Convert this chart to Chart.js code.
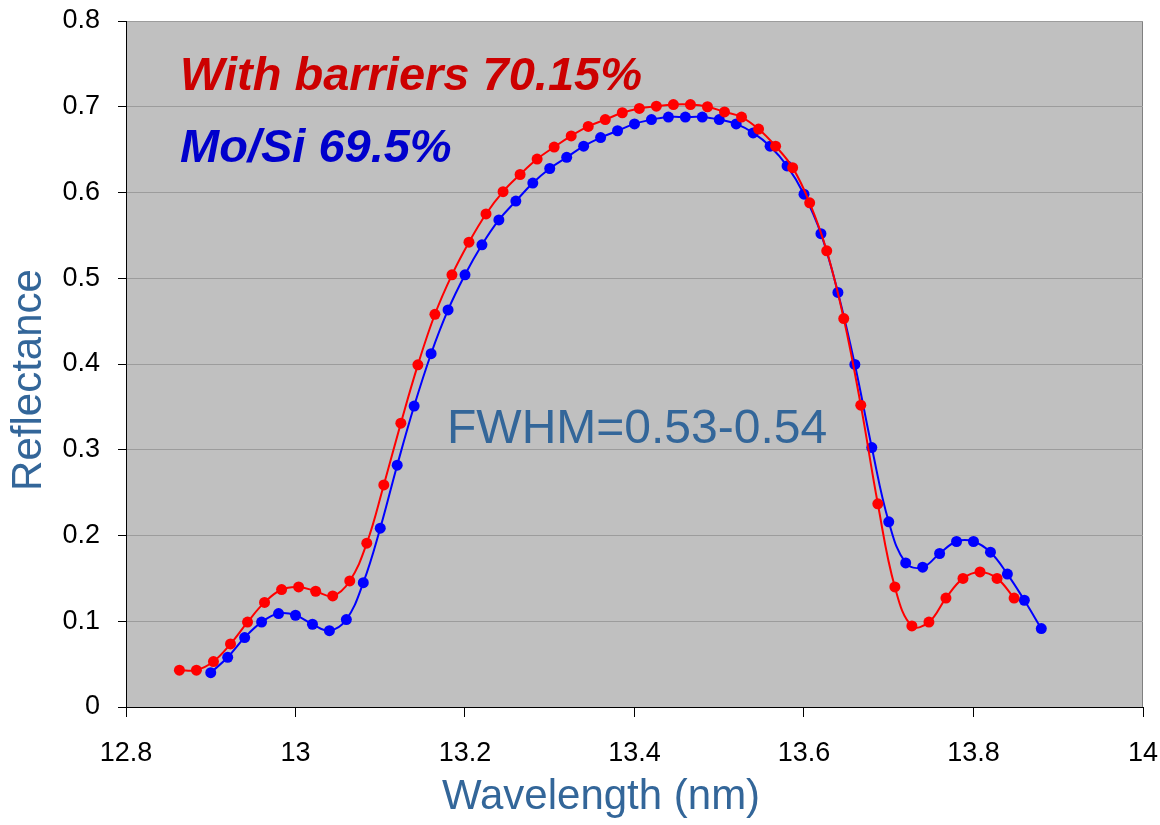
<!DOCTYPE html>
<html>
<head>
<meta charset="utf-8">
<script src="https://cdn.jsdelivr.net/npm/chart.js@4.4.1/dist/chart.umd.min.js"></script>
<style>
  html, body { margin: 0; padding: 0; background: #ffffff; }
  #wrap { width: 1160px; height: 825px; }
</style>
</head>
<body>
<div id="wrap"><canvas id="chart" width="1160" height="825"></canvas></div>
<script>
// wavelength grids (nm) - the two runs were sampled on slightly different grids
const barrierWavelengths = [
    12.863, 12.8831, 12.9032, 12.9233, 12.9434, 12.9635, 12.9836, 13.0037, 13.0238, 13.0439,
    13.064, 13.0841, 13.1042, 13.1243, 13.1444, 13.1645, 13.1846, 13.2047, 13.2248, 13.2449,
    13.265, 13.2851, 13.3052, 13.3253, 13.3454, 13.3655, 13.3856, 13.4057, 13.4258, 13.4459,
    13.466, 13.4861, 13.5062, 13.5263, 13.5464, 13.5665, 13.5866, 13.6067, 13.6268, 13.6469,
    13.667, 13.6871, 13.7072, 13.7273, 13.7474, 13.7675, 13.7876, 13.8077, 13.8278, 13.8479
];
const moSiWavelengths = [
    12.90, 12.92, 12.94, 12.96, 12.98, 13.00, 13.02, 13.04, 13.06, 13.08,
    13.10, 13.12, 13.14, 13.16, 13.18, 13.20, 13.22, 13.24, 13.26, 13.28,
    13.30, 13.32, 13.34, 13.36, 13.38, 13.40, 13.42, 13.44, 13.46, 13.48,
    13.50, 13.52, 13.54, 13.56, 13.58, 13.60, 13.62, 13.64, 13.66, 13.68,
    13.70, 13.72, 13.74, 13.76, 13.78, 13.80, 13.82, 13.84, 13.86, 13.88
];

// 반사율 값
const barrierReflectance = [
    0.043, 0.043, 0.053, 0.0735, 0.099, 0.122, 0.137, 0.140, 0.135, 0.1295,
    0.147, 0.191, 0.259, 0.331, 0.399, 0.458, 0.504, 0.542, 0.575, 0.601,
    0.621, 0.639, 0.653, 0.666, 0.677, 0.685, 0.693, 0.698, 0.7006, 0.7025,
    0.7025, 0.700, 0.694, 0.688, 0.674, 0.654, 0.629, 0.588, 0.532, 0.453,
    0.352, 0.237, 0.140, 0.0945, 0.099, 0.127, 0.150, 0.1575, 0.150, 0.127
];
const moSiReflectance = [
    0.040, 0.058, 0.081, 0.099, 0.109, 0.107, 0.0965, 0.089, 0.102, 0.145,
    0.2085, 0.282, 0.351, 0.412, 0.463, 0.504, 0.539, 0.568, 0.590, 0.611,
    0.628, 0.641, 0.654, 0.664, 0.672, 0.680, 0.685, 0.688, 0.688, 0.688,
    0.685, 0.680, 0.6695, 0.654, 0.631, 0.598, 0.552, 0.4835, 0.3995, 0.3026,
    0.216, 0.168, 0.163, 0.179, 0.193, 0.193, 0.1805, 0.155, 0.1245, 0.0914
];

const xTickLabels = ["12.8", "13", "13.2", "13.4", "13.6", "13.8", "14"];
const yTickLabels = ["0", "0.1", "0.2", "0.3", "0.4", "0.5", "0.6", "0.7", "0.8"];

const barrierLabel = "With barriers 70.15%";
const moSiLabel = "Mo/Si 69.5%";
const fwhmNote = "FWHM=0.53-0.54";
const xTitle = "Wavelength (nm)";
const yTitle = "Reflectance";

// 좁은 글꼴이 있는지 확인 (눈금 라벨용)
function hasFont(name) {
    const c = document.createElement("canvas").getContext("2d");
    c.font = "40px monospace";
    const base = c.measureText("13.2 Reflectance").width;
    c.font = `40px "${name}", monospace`;
    return c.measureText("13.2 Reflectance").width !== base;
}
const tickFont = hasFont("Liberation Sans Narrow")
    ? { family: '"Liberation Sans Narrow"', size: 32, lineHeight: 1.2 }
    : { family: '"Liberation Sans", Arial', size: 27, lineHeight: 1.2 };

const SANS = '"Liberation Sans", Arial, sans-serif';

// 회색 플롯 영역과 주석 텍스트
const plotDecor = {
    id: "plotDecor",
    beforeDraw(chart) {
        const { ctx, chartArea: a } = chart;
        ctx.save();
        ctx.fillStyle = "#c0c0c0";
        ctx.fillRect(a.left, a.top, a.right - a.left, a.bottom - a.top);
        ctx.strokeStyle = "#808080";
        ctx.lineWidth = 1;
        ctx.strokeRect(a.left + 0.5, a.top + 0.5, a.right - a.left - 1, a.bottom - a.top);
        ctx.restore();
    },
    afterDraw(chart) {
        const ctx = chart.ctx;
        ctx.save();
        ctx.textBaseline = "alphabetic";
        ctx.textAlign = "left";

        ctx.font = `italic bold 47px ${SANS}`;
        ctx.fillStyle = "#cc0000";
        ctx.fillText(barrierLabel, 180, 90);
        ctx.fillStyle = "#0000cc";
        ctx.fillText(moSiLabel, 180, 162);

        ctx.font = `48px ${SANS}`;
        ctx.fillStyle = "#336699";
        ctx.fillText(fwhmNote, 447, 443);

        // axis titles
        ctx.font = `42px ${SANS}`;
        ctx.textAlign = "center";
        ctx.fillText(xTitle, 601, 809);

        ctx.translate(29, 380);
        ctx.rotate(-Math.PI / 2);
        ctx.textBaseline = "middle";
        ctx.fillText(yTitle, 0, 0);
        ctx.restore();
    }
};

const ctx = document.getElementById("chart").getContext("2d");

window.reflectChart = new Chart(ctx, {
    type: "line",
    data: {
        datasets: [
            {
                label: barrierLabel,
                data: barrierWavelengths.map((w, i) => ({ x: w, y: barrierReflectance[i] })),
                borderColor: "#ff0000",
                backgroundColor: "#ff0000",
                borderWidth: 2,
                tension: 0.4,
                pointRadius: 5.5,
                pointBorderWidth: 0,
                fill: false
            },
            {
                label: moSiLabel,
                data: moSiWavelengths.map((w, i) => ({ x: w, y: moSiReflectance[i] })),
                borderColor: "#0000ff",
                backgroundColor: "#0000ff",
                borderWidth: 2,
                tension: 0.4,
                pointRadius: 5.5,
                pointBorderWidth: 0,
                fill: false
            }
        ]
    },
    options: {
        responsive: false,
        animation: false,
        devicePixelRatio: 1,
        layout: { padding: { left: 0, top: 21, right: 17, bottom: 0 } },
        plugins: {
            legend: { display: false },
            tooltip: { enabled: false }
        },
        scales: {
            x: {
                type: "linear",
                min: 12.8,
                max: 14,
                afterFit: (scale) => {
                    scale.height = 118;
                    scale.paddingLeft = 0;
                    scale.paddingRight = 0;
                },
                ticks: {
                    stepSize: 0.2,
                    color: "#000000",
                    font: tickFont,
                    padding: 20,
                    maxRotation: 0,
                    autoSkip: false,
                    callback: (value, index) => xTickLabels[index]
                },
                grid: {
                    drawOnChartArea: false,
                    tickLength: 10,
                    tickColor: "#000000"
                },
                border: { color: "#000000", width: 1 }
            },
            y: {
                min: 0,
                max: 0.8,
                afterFit: (scale) => {
                    scale.width = 126;
                    scale.paddingTop = 0;
                    scale.paddingBottom = 0;
                },
                ticks: {
                    stepSize: 0.1,
                    color: "#000000",
                    font: tickFont,
                    padding: 18,
                    callback: (value, index) => yTickLabels[index]
                },
                grid: {
                    color: "#9c9c9c",
                    tickLength: 8,
                    tickColor: "#000000"
                },
                border: { color: "#000000", width: 1 }
            }
        }
    },
    plugins: [plotDecor]
});
</script>
</body>
</html>
